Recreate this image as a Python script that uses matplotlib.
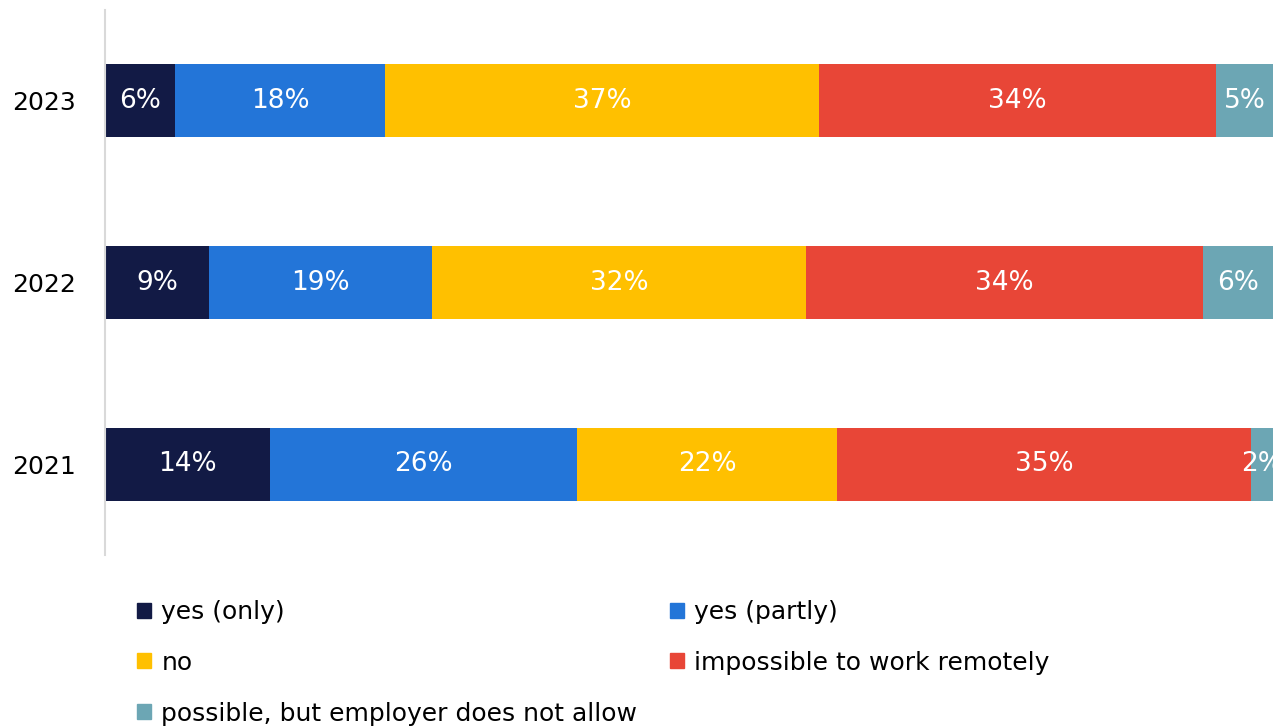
import matplotlib.pyplot as plt
from matplotlib.patches import Patch

years = ['2021', '2022', '2023']
categories = ['yes (only)', 'yes (partly)', 'no', 'impossible to work remotely',
              'possible, but employer does not allow']
# shares per year (2021, 2022, 2023)
yes_only = [14.1, 8.9, 6.0]
yes_partly = [26.3, 19.1, 18.0]
no = [22.3, 32.0, 37.1]
impossible = [35.4, 34.0, 34.0]
not_allowed = [1.9, 6.0, 4.9]
labels = [
    ['14%', '9%', '6%'],
    ['26%', '19%', '18%'],
    ['22%', '32%', '37%'],
    ['35%', '34%', '34%'],
    ['2%', '6%', '5%'],
]
colors = ['#121A45', '#2375D8', '#FFC000', '#E84637', '#6CA6B4']

series = [yes_only, yes_partly, no, impossible, not_allowed]

plt.rcParams['font.family'] = ['DejaVu Sans']

fig = plt.figure(figsize=(12.73, 7.28), dpi=100)
ax = fig.add_axes([105 / 1273, 1 - 555 / 728, 1168 / 1273, 545 / 728])

ypos = range(len(years))
left = [0.0] * len(years)
for vals, col, labs in zip(series, colors, labels):
    bars = ax.barh(ypos, vals, left=left, height=0.4, color=col)
    for b, lab in zip(bars, labs):
        ax.text(b.get_x() + b.get_width() / 2, b.get_y() + b.get_height() / 2,
                lab, color='white', ha='center', va='center', fontsize=19)
    left = [l + v for l, v in zip(left, vals)]

ax.set_xlim(0, 100)
ax.set_ylim(-0.5, 2.5)
ax.set_yticks(list(ypos))
ax.set_yticklabels(years, fontsize=18)
ax.tick_params(axis='y', length=0, pad=21)
ax.set_xticks([])
for s in ['top', 'right', 'bottom']:
    ax.spines[s].set_visible(False)
ax.spines['left'].set_color('#D9D9D9')
ax.spines['left'].set_linewidth(1.5)

handles = [Patch(color=c) for c in colors]
order = [0, 2, 4, 1, 3]
fig.legend([handles[i] for i in order], [categories[i] for i in order],
           ncol=2, loc='upper left', bbox_to_anchor=(137 / 1273, 1 - 600 / 728),
           frameon=False, fontsize=18, handlelength=0.55, handleheight=0.55,
           handletextpad=0.42, columnspacing=1.3, labelspacing=1.07,
           borderpad=0, borderaxespad=0)

fig.savefig('out.png', dpi=100)
